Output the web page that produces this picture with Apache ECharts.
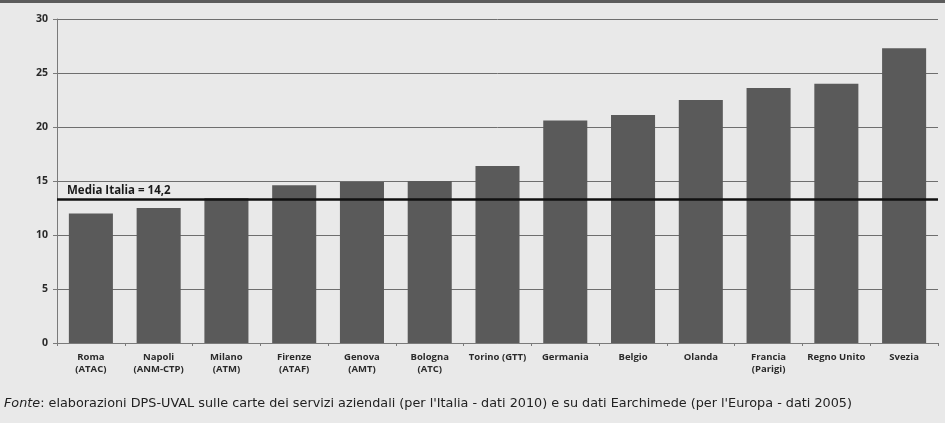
<!DOCTYPE html>
<html>
<head>
<meta charset="utf-8">
<script src="https://cdn.jsdelivr.net/npm/echarts@6/dist/echarts.min.js"></script>
<style>
html,body{margin:0;padding:0;background:#e9e9e9;}
#c{width:945px;height:423px;}
</style>
</head>
<body>
<div id="c"></div>
<script>
const categories = ['Roma\n(ATAC)','Napoli\n(ANM-CTP)','Milano\n(ATM)','Firenze\n(ATAF)','Genova\n(AMT)','Bologna\n(ATC)','Torino (GTT)','Germania','Belgio','Olanda','Francia\n(Parigi)','Regno Unito','Svezia'];
const values = [12.0, 12.5, 13.4, 14.6, 14.9, 15.0, 16.4, 20.6, 21.1, 22.5, 23.6, 24.0, 27.3];
const mediaValue = 13.27;
const mediaLabel = 'Media Italia = 14,2';
const yTicks = {min: 0, max: 30, interval: 5};
const footerItalic = 'Fonte';
const footerText = ': elaborazioni DPS-UVAL sulle carte dei servizi aziendali (per l\'Italia - dati 2010) e su dati Earchimede (per l\'Europa - dati 2005)';

const chart = echarts.init(document.getElementById('c'), null, {renderer: 'canvas'});
chart.setOption({
  backgroundColor: '#e9e9e9',
  animation: false,
  grid: {left: 57, right: 7, top: 19, bottom: 80, containLabel: false},
  graphic: [
    {type: 'rect', shape: {x: 0, y: 0, width: 945, height: 3}, style: {fill: '#5c5c5c'}},
    {type: 'text', left: 4, top: 397, style: {
      text: '{i|' + footerItalic + '}{n|' + footerText + '}',
      rich: {
        i: {fontFamily: 'DejaVu Sans', fontStyle: 'italic', fontSize: 12.8, fill: '#222'},
        n: {fontFamily: 'DejaVu Sans', fontSize: 12.8, fill: '#222'}
      }
    }}
  ],
  xAxis: {
    type: 'category',
    data: categories,
    axisLine: {lineStyle: {color: '#7a7a7a', width: 1}},
    axisTick: {show: true, length: 3, lineStyle: {color: '#7a7a7a'}},
    axisLabel: {interval: 0, color: '#2a2a2a', fontFamily: 'Open Sans', fontWeight: 'bold', fontSize: 9.5, lineHeight: 12, margin: 8}
  },
  yAxis: {
    type: 'value',
    min: yTicks.min, max: yTicks.max, interval: yTicks.interval,
    axisLine: {show: true, lineStyle: {color: '#7a7a7a', width: 1}},
    axisTick: {show: true, length: 4, lineStyle: {color: '#7a7a7a'}},
    splitLine: {lineStyle: {color: '#6e6e6e', width: 1}},
    axisLabel: {color: '#2a2a2a', fontFamily: 'Open Sans', fontWeight: 'bold', fontSize: 10.5, margin: 9}
  },
  series: [{
    type: 'bar',
    data: values,
    barWidth: '65%',
    itemStyle: {color: '#5a5a5a'},
    markLine: {
      silent: true,
      symbol: 'none',
      z: 10,
      data: [{yAxis: mediaValue}],
      lineStyle: {color: '#111', width: 2.5, type: 'solid'},
      label: {
        show: true, position: 'insideStartTop', formatter: mediaLabel,
        color: '#1a1a1a', fontFamily: 'Open Sans', fontWeight: 'bold', fontSize: 11.5, distance: [10, 3]
      }
    }
  }]
});
</script>
</body>
</html>
